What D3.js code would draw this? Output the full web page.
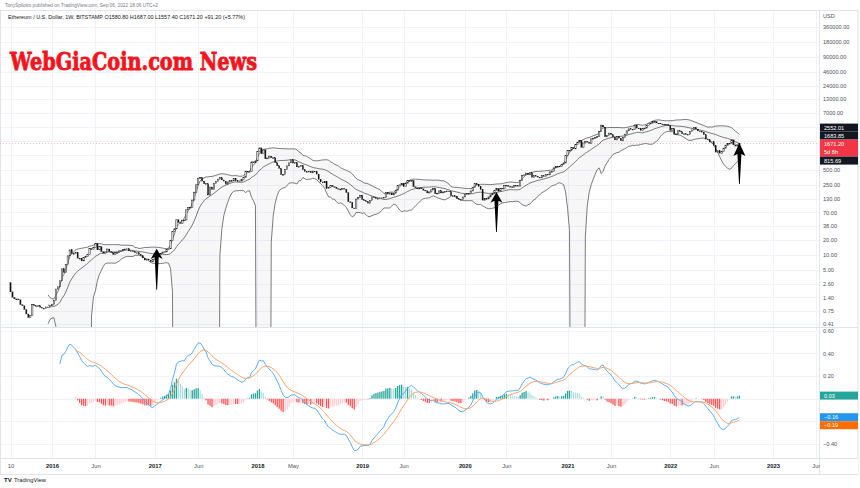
<!DOCTYPE html>
<html><head><meta charset="utf-8">
<script src="https://cdn.jsdelivr.net/npm/d3@7"></script>
<style>body{margin:0;background:#fff;}svg{display:block;font-family:"Liberation Sans",Arial,sans-serif;}</style>
</head><body>
<svg id="c" width="860" height="488"></svg>
<script>
// ---------------- DATA ----------------
const firstWeek = "2015-08-10";           // first weekly bar (Monday)
const firstOpen = 2.77;
const closes2015 = [1.80,1.40,1.30,1.30,1.25,1.00,0.95,0.80,0.65,0.55,0.60,1.00,0.95,0.93,0.95,0.88,0.85,0.85,0.90,0.88,0.95];
const closes2016 = [1.00,1.22,2.05,2.28, 3.0,5.2,4.4,6.3,9.5, 12.5,10.5,10.6,11.2, 8.5,8.5,7.5,8.8, 9.3,10.0,13.3,12.6,14.0, 17.0,12.5,14.5,11.5, 10.6,11.3,13.0,11.5, 11.0,10.0,11.0,11.1,11.9, 11.9,12.8,13.0,13.1, 11.9,11.9,11.5,10.9,10.9, 10.1,9.5,8.6,7.8, 8.2,7.8,7.2,8.0];
const closes2017 = [10.2,9.8,10.6,10.6,11.3, 11.4,12.8,13.1,19.2, 28.8,33.0,50.0,44.1, 42.3,48.0,49.4,79.0, 88,89,124,178,250, 340,350,296,261, 263,156,226,201,265, 295,325,348,313, 296,258,285,302, 300,336,301,296,299, 316,355,470,463, 462,720,690,755];
const closes2018 = [1150,1370,1050,1250,830, 860,940,870,870, 690,600,530,400, 400,510,600,690,790, 680,700,570,580, 610,500,460,455, 470,435,470,465,410, 320,285,275,295, 210,220,245,230, 225,210,205,205,212, 205,175,115,112, 86,84,130,138,155];
const closes2019 = [126,120,115,107, 122,143,137,132, 134,137,137,141, 175,163,172,157,170, 195,240,250,268, 230,270,307,290, 305,230,218,207,218, 208,195,189,172, 180,198,211,166,170, 189,172,180,184, 188,183,151,151, 149,132,127,128,143];
const closes2020 = [160,166,168,189, 224,265,250,231, 200,123,132,131,143, 158,170,195,212, 187,214,207,244, 245,233,229,225,242, 240,236,310,386, 395,430,396,434,353, 381,370,355,346, 380,368,406,396, 455,460,548,576,590, 575,638,685,975];
const closes2021 = [1230,1230,1390,1310, 1610,1780,1940,1410, 1720,1860,1780,1690,2080, 2140,2240,2310,2950, 3920,3580,2280,2420,2710, 2510,2250,1980,2320, 2140,1900,2190,2560, 3010,3310,3240,3230,3930, 3410,3330,3060,3390, 3420,3850,4170,4290, 4610,4640,4310,4300,4130, 4070,3920,4060,3830];
const closes2022 = [3080,3330,2540,2600,3020, 2880,2620,2620,2550, 2570,2950,3140,3520, 3260,2990,2920,2830, 2520,2060,1990,1790,1810, 1530,1125,1200,1070, 1165,1355,1550,1680, 1700,1985,1575,1490,1580.8, 1671.2];
const closes = [].concat(closes2015,closes2016,closes2017,closes2018,closes2019,closes2020,closes2021,closes2022);

const priceTicks = [360000,180000,90000,46000,24000,13000,7000,3600,1900,1000,500,250,130,70,38,20,10,5,2.6,1.4,0.75,0.41];
const macdTicks = [0.6,0.4,0.2,0,-0.2,-0.4];
const timeTickDates  = ["2015-08-10","2016-01-04","2016-06-06","2017-01-02","2017-06-05","2018-01-01","2018-05-07","2019-01-07","2019-06-03","2020-01-06","2020-06-01","2021-01-04","2021-06-07","2022-01-03","2022-06-06","2023-01-02","2023-06-05"];
const timeTickLabels = ["10","2016","Jun","2017","Jun","2018","May","2019","Jun","2020","Jun","2021","Jun","2022","Jun","2023","Jun"];
const arrowDates = ["2017-01-09","2020-04-27","2022-09-05"];
const arrowTips  = [13.1, 180, 1720];
const arrowHeads = [8.6, 114, 990];
const arrowTails = [1.98, 28.6, 261];

const headerLine1 = "TonySpilotro published on TradingView.com, Sep 06, 2022 18:06 UTC+2";
const headerLine2 = "Ethereum / U.S. Dollar, 1W, BITSTAMP  O1580.80  H1687.00  L1557.40  C1671.20  +91.20 (+5.77%)";
const countdown = "5d 8h";
const watermark = "WebGiaCoin.com News";

// ---------------- LAYOUT ----------------
const svg = d3.select("#c");
const axisX = 819, mainTop = 10, mainBot = 327, macdTop = 328, macdBot = 458, frameBot = 474, frameR = 858;
const parse = d3.utcParse("%Y-%m-%d");
const t0 = parse(firstWeek).getTime();
const dates = closes.map((_, i) => new Date(t0 + i * 7 * 864e5));

const x = d3.scaleUtc().domain([parse("2016-01-04"), parse("2023-01-02")]).range([52, 773]);
const y = d3.scaleLog().domain([0.41, 360000]).range([324, 27]);
const ym = d3.scaleLinear().domain([0, 0.6]).range([398.7, 330.6]);

svg.append("rect").attr("width", 860).attr("height", 488).attr("fill", "#fff");

const defs = svg.append("defs");
defs.append("clipPath").attr("id", "cm").append("rect").attr("x", 0).attr("y", mainTop).attr("width", axisX).attr("height", mainBot - mainTop);
defs.append("clipPath").attr("id", "cd").append("rect").attr("x", 0).attr("y", macdTop).attr("width", axisX).attr("height", macdBot - macdTop);

// grid
const grid = svg.append("g").attr("stroke", "#f0f3fa").attr("stroke-width", 1);
timeTickDates.forEach(d => {
  const xx = Math.round(x(parse(d))) + 0.5;
  if (xx < axisX) grid.append("line").attr("x1", xx).attr("x2", xx).attr("y1", mainTop).attr("y2", macdBot);
});
priceTicks.forEach(p => {
  const yy = Math.round(y(p)) + 0.5;
  if (yy > mainTop && yy < mainBot) grid.append("line").attr("x1", 0).attr("x2", axisX).attr("y1", yy).attr("y2", yy);
});
macdTicks.forEach(v => {
  const yy = Math.round(ym(v)) + 0.5;
  grid.append("line").attr("x1", 0).attr("x2", axisX).attr("y1", yy).attr("y2", yy);
});

// frame & separators
const fr = svg.append("g").attr("stroke", "#e0e3eb").attr("fill", "none");
fr.append("rect").attr("x", 0.5).attr("y", mainTop + 0.5).attr("width", frameR - 0.5).attr("height", frameBot - mainTop);
fr.append("line").attr("x1", axisX + 0.5).attr("x2", axisX + 0.5).attr("y1", mainTop).attr("y2", frameBot);
fr.append("line").attr("x1", 0).attr("x2", frameR).attr("y1", mainBot + 0.5).attr("y2", mainBot + 0.5);
fr.append("line").attr("x1", 0).attr("x2", frameR).attr("y1", macdBot + 0.5).attr("y2", macdBot + 0.5);

// watermark
svg.append("text").attr("x", 10).attr("y", 70).attr("fill", "#f5141e").attr("stroke", "#f5141e").attr("stroke-width", 0.9)
  .attr("font-family", "'DejaVu Serif', serif").attr("font-weight", "bold").attr("font-size", 25)
  .attr("textLength", 247).attr("lengthAdjust", "spacingAndGlyphs").text(watermark);

// ---------------- MAIN PANE ----------------
const main = svg.append("g").attr("clip-path", "url(#cm)");

// Bollinger Bands 20, 2
const bb = closes.map((c, i) => {
  if (i < 19) return null;
  const w = closes.slice(i - 19, i + 1);
  const m = d3.mean(w);
  const sd = Math.sqrt(d3.mean(w, v => (v - m) ** 2));
  return { i, m, up: m + 2 * sd, lo: m - 2 * sd };
});
const loY = d => d.lo > 0 ? y(d.lo) : mainBot + 400;
main.append("path").datum(bb)
  .attr("d", d3.area().defined(d => d).x(d => x(dates[d.i])).y0(loY).y1(d => y(d.up)))
  .attr("fill", "#000").attr("fill-opacity", 0.03);
[d => y(d.up), d => y(d.m), loY].forEach(f => {
  main.append("path").datum(bb)
    .attr("d", d3.line().defined(d => d).x(d => x(dates[d.i])).y(f))
    .attr("fill", "none").attr("stroke", "#444").attr("stroke-width", 0.7);
});

// last price line
const lastClose = closes[closes.length - 1];
main.append("line").attr("x1", 0).attr("x2", axisX).attr("y1", y(lastClose)).attr("y2", y(lastClose))
  .attr("stroke", "#f23645").attr("stroke-opacity", 0.35).attr("stroke-dasharray", "1,2");

// candles
main.append("g").selectAll("rect").data(closes).join("rect")
  .each(function (c, i) {
    const o = i === 0 ? firstOpen : closes[i - 1];
    const top = y(Math.max(o, c)), bot = y(Math.min(o, c));
    const up = c >= o;
    d3.select(this).attr("x", x(dates[i]) - 0.65).attr("width", 1.3)
      .attr("y", top).attr("height", Math.max(0.8, bot - top))
      .attr("fill", up ? "#fff" : "#111").attr("stroke", "#111").attr("stroke-width", up ? 0.5 : 0.2);
  });

// arrows
arrowDates.forEach((d, k) => {
  const ax = x(parse(d)), ty = y(arrowTips[k]), hy = y(arrowHeads[k]), by = y(arrowTails[k]);
  const p = d3.path();
  p.moveTo(ax, ty); p.lineTo(ax + 6, hy + 1); p.lineTo(ax + 2, hy - 1); p.lineTo(ax + 0.4, by);
  p.lineTo(ax - 0.4, by); p.lineTo(ax - 2, hy - 1); p.lineTo(ax - 6, hy + 1); p.closePath();
  main.append("path").attr("d", p.toString()).attr("fill", "#000");
});

// ---------------- MACD PANE (log ratio of EMA12 / EMA26) ----------------
function ema(src, n) {
  const out = new Array(src.length).fill(null), a = 2 / (n + 1);
  const first = src.findIndex(v => v != null);
  const s = first + n - 1;
  out[s] = d3.mean(src.slice(first, s + 1));
  for (let i = s + 1; i < src.length; i++) out[i] = a * src[i] + (1 - a) * out[i - 1];
  return out;
}
const e12 = ema(closes, 12), e26 = ema(closes, 26);
const macd = closes.map((_, i) => (e12[i] != null && e26[i] != null) ? Math.log(e12[i] / e26[i]) : null);
const sig = ema(macd, 9);
const hist = macd.map((m, i) => (m != null && sig[i] != null) ? m - sig[i] : null);
const histColor = i => {
  const h = hist[i], p = hist[i - 1];
  if (h >= 0) return (p != null && p < h) ? "#26a69a" : "#b2dfdb";
  return (p != null && p < h) ? "#ffcdd2" : "#ff5252";
};
const mg = svg.append("g").attr("clip-path", "url(#cd)");
mg.append("g").selectAll("rect").data(hist.map((h, i) => ({ h, i })).filter(d => d.h != null)).join("rect")
  .attr("x", d => x(dates[d.i]) - 0.65).attr("width", 1.3)
  .attr("y", d => Math.min(ym(0), ym(d.h))).attr("height", d => Math.abs(ym(d.h) - ym(0)))
  .attr("fill", d => histColor(d.i));
const lineOf = arr => d3.line().defined(d => d != null).x((d, i) => x(dates[i])).y(d => ym(d))(arr);
mg.append("path").attr("d", lineOf(macd)).attr("fill", "none").attr("stroke", "#5aaef5").attr("stroke-width", 1);
mg.append("path").attr("d", lineOf(sig)).attr("fill", "none").attr("stroke", "#f9a36b").attr("stroke-width", 1);

// ---------------- AXES ----------------
const fmt2 = d3.format(".2f");
const last = closes.length - 1;
const priceLabels = [
  { v: bb[last].up, text: fmt2(bb[last].up), bg: "#131722", h: 8 },
  { v: bb[last].m, text: fmt2(bb[last].m), bg: "#131722", h: 8 },
  { v: lastClose, text: fmt2(lastClose), bg: "#f23645", h: 17, anchor: true, sub: countdown },
  { v: bb[last].lo, text: fmt2(bb[last].lo), bg: "#131722", h: 8 }
];
function resolve(labels, scale) {
  labels.forEach(l => { l.yc = scale(l.v); l.top = l.yc - 4; l.bot = l.top + l.h; });
  labels.sort((a, b) => a.yc - b.yc);
  const ai = labels.findIndex(l => l.anchor);
  for (let k = ai - 1; k >= 0; k--) {
    const nb = labels[k + 1];
    if (labels[k].bot > nb.top) { labels[k].bot = nb.top; labels[k].top = nb.top - labels[k].h; }
  }
  for (let k = ai + 1; k < labels.length; k++) {
    const pb = labels[k - 1];
    if (labels[k].top < pb.bot) { labels[k].top = pb.bot; labels[k].bot = pb.bot + labels[k].h; }
  }
  return labels;
}
resolve(priceLabels, y);

const macdLabels = [
  { v: hist[last], text: fmt2(hist[last]), bg: histColor(last), h: 8 },
  { v: macd[last], text: fmt2(macd[last]), bg: "#2196f3", h: 8, anchor: true },
  { v: sig[last], text: fmt2(sig[last]), bg: "#ff6d00", h: 8 }
];
resolve(macdLabels, ym);

const hidden = (labels, yy) => labels.some(l => yy + 2.5 > l.top && yy - 2.5 < l.bot);

const pAxis = svg.append("g").attr("transform", `translate(${axisX},0)`)
  .call(d3.axisRight(y).tickValues(priceTicks).tickSize(0).tickPadding(4).tickFormat(fmt2));
pAxis.select(".domain").remove();
pAxis.selectAll("text").attr("fill", "#50535e").attr("font-size", 5.6).attr("font-family", "'Liberation Sans',Arial,sans-serif")
  .attr("opacity", d => hidden(priceLabels, y(d)) ? 0 : 1);
svg.append("text").attr("x", 823).attr("y", 18).attr("fill", "#50535e").attr("font-size", 5.6).text("USD");

const mAxis = svg.append("g").attr("transform", `translate(${axisX},0)`)
  .call(d3.axisRight(ym).tickValues(macdTicks).tickSize(0).tickPadding(4).tickFormat(fmt2));
mAxis.select(".domain").remove();
mAxis.selectAll("text").attr("fill", "#50535e").attr("font-size", 5.6).attr("font-family", "'Liberation Sans',Arial,sans-serif")
  .attr("opacity", d => hidden(macdLabels, ym(d)) ? 0 : 1);

function drawBoxes(labels) {
  labels.forEach(l => {
    svg.append("rect").attr("x", axisX + 1).attr("y", l.top).attr("width", 38).attr("height", l.h).attr("fill", l.bg);
    svg.append("text").attr("x", axisX + 5).attr("y", l.top + 6).attr("fill", "#fff").attr("font-size", 5.6).text(l.text);
    if (l.sub) svg.append("text").attr("x", axisX + 5).attr("y", l.top + 14).attr("fill", "#fff").attr("font-size", 5.6).text(l.sub);
  });
}
drawBoxes(priceLabels);
drawBoxes(macdLabels);

// time axis
const tAxis = svg.append("g").attr("transform", `translate(0,${macdBot})`)
  .call(d3.axisBottom(x).tickValues(timeTickDates.map(parse)).tickSize(0).tickPadding(6)
    .tickFormat((d, i) => timeTickLabels[i]));
tAxis.select(".domain").remove();
tAxis.selectAll("text").attr("font-size", 5.8).attr("font-family", "'Liberation Sans',Arial,sans-serif")
  .attr("fill", (d, i) => /^\d{4}$/.test(timeTickLabels[i]) ? "#131722" : "#50535e")
  .attr("font-weight", (d, i) => /^\d{4}$/.test(timeTickLabels[i]) ? "bold" : "normal");
svg.append("rect").attr("x", axisX + 1).attr("y", macdBot + 1).attr("width", frameR - axisX - 1).attr("height", frameBot - macdBot - 1).attr("fill", "#fff");

// header texts
svg.append("text").attr("x", 5).attr("y", 7).attr("fill", "#787b86").attr("font-size", 5)
  .attr("textLength", 153).attr("lengthAdjust", "spacingAndGlyphs").text(headerLine1);
svg.append("text").attr("x", 8).attr("y", 19).attr("fill", "#131722").attr("font-size", 5.6)
  .attr("textLength", 237).attr("lengthAdjust", "spacingAndGlyphs").text(headerLine2);

// footer logo
svg.append("text").attr("x", 4).attr("y", 482).attr("fill", "#131722").attr("font-size", 6).attr("font-weight", "bold").text("TV");
svg.append("text").attr("x", 14).attr("y", 482).attr("fill", "#131722").attr("font-size", 5.8).text("TradingView");
</script>
</body></html>
